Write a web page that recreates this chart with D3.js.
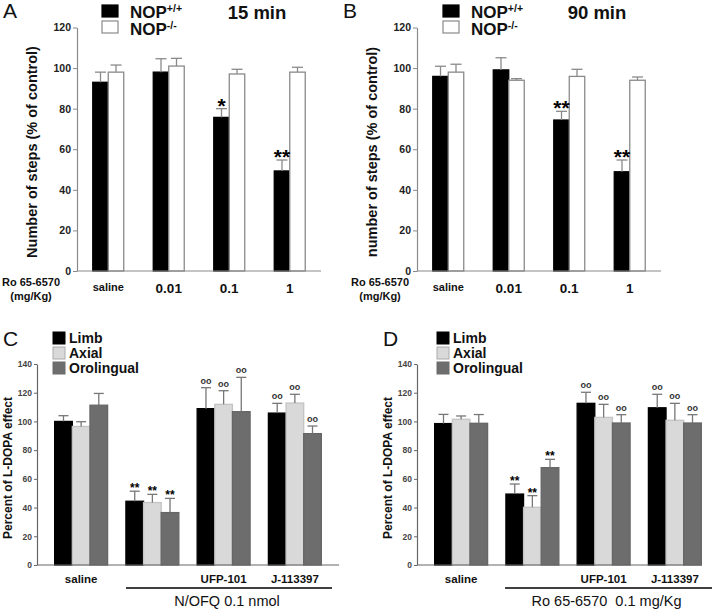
<!DOCTYPE html>
<html>
<head>
<meta charset="utf-8">
<script src="https://cdn.jsdelivr.net/npm/d3@7"></script>
<style>
  body { margin: 0; background: #fff; }
  svg { display: block; font-family: "Liberation Sans", Arial, sans-serif; }
</style>
</head>
<body>
<div id="chart"></div>
<script>
// ---- data ----
const doses = ["saline", "0.01", "0.1", "1"];
const genotypes = ["NOP+/+", "NOP-/-"];

// panel A, 15 min
const a15Wt = [93, 98, 75.7, 49.3];
const a15WtSem = [5, 6.6, 4.3, 5.4];
const a15Ko = [98, 101, 97.1, 98];
const a15KoSem = [3.5, 3.8, 2.3, 2.4];
const a15Marks = ["", "", "*", "**"];

// panel B, 90 min
const b90Wt = [95.9, 99.1, 74.4, 48.9];
const b90WtSem = [5, 6, 4.3, 5.8];
const b90Ko = [98, 94, 95.9, 94];
const b90KoSem = [3.9, 0.8, 3.5, 1.6];
const b90Marks = ["", "", "**", "**"];

const treatments = ["saline", "agonist", "UFP-101", "J-113397"];
const treatmentLabels = ["saline", "", "UFP-101", "J-113397"];
const scores = ["Limb", "Axial", "Orolingual"];

// panel C, N/OFQ 0.1 nmol
const cLimb = [100, 44.4, 108.9, 105.8];
const cLimbSem = [4, 7, 14.6, 6.8];
const cAxial = [96.5, 43.5, 111.9, 112.8];
const cAxialSem = [3.3, 5.7, 9.5, 6.1];
const cOro = [111.3, 36.5, 106.8, 91.5];
const cOroSem = [8.2, 9.9, 23.9, 5.3];

// panel D, Ro 65-6570 0.1 mg/Kg
const dLimb = [98.5, 49.4, 112.6, 109.5];
const dLimbSem = [6.4, 7, 7.7, 9.4];
const dAxial = [101.5, 40.2, 102.8, 100.8];
const dAxialSem = [2.3, 8.1, 9.1, 11.8];
const dOro = [98.7, 67.8, 98.9, 98.9];
const dOroSem = [6.1, 5.8, 5.8, 5.8];

const cdMarks = ["", "**", "oo", "oo"];

const ticksAB = [0, 20, 40, 60, 80, 100, 120];
const ticksCD = [0, 20, 40, 60, 80, 100, 120, 140];

// ---- drawing ----
const svg = d3.select("#chart")
    .append("svg")
    .attr("width", 720)
    .attr("height", 609);

function drawPanel(o) {
    const g = svg.append("g");

    const y = d3.scaleLinear().domain([0, o.yMax]).range([o.yBottom, o.yTop]);
    const x0 = d3.scaleBand()
        .domain(o.groups)
        .range([o.xLeft, o.xRight])
        .paddingInner(o.padIn)
        .paddingOuter(o.padOut);
    const x1 = d3.scaleBand().domain(o.series).range([0, x0.bandwidth()]);
    const color = d3.scaleOrdinal().domain(o.series).range(o.colors);

    const rows = [];
    o.series.forEach((s, si) => {
        o.groups.forEach((grp, gi) => {
            rows.push({
                group: grp, series: s,
                v: o.values[si][gi], e: o.sems[si][gi],
                mark: o.marks(si, gi)
            });
        });
    });

    // bars
    g.selectAll("rect.bar")
        .data(rows)
        .enter()
        .append("rect")
        .attr("class", "bar")
        .attr("x", d => x0(d.group) + x1(d.series))
        .attr("y", d => y(d.v))
        .attr("width", x1.bandwidth())
        .attr("height", d => y(0) - y(d.v))
        .attr("fill", d => color(d.series))
        .attr("stroke", d => o.outline(d.series))
        .attr("stroke-width", 1.3);

    // error bars (upper half only)
    const cx = d => x0(d.group) + x1(d.series) + x1.bandwidth() / 2;
    const eb = g.selectAll("g.err").data(rows).enter().append("g")
        .attr("stroke", o.errColor)
        .attr("stroke-width", 1.3);
    eb.append("line")
        .attr("x1", cx).attr("x2", cx)
        .attr("y1", d => y(d.v))
        .attr("y2", d => y(d.v + d.e));
    eb.append("line")
        .attr("x1", d => cx(d) - o.capW / 2)
        .attr("x2", d => cx(d) + o.capW / 2)
        .attr("y1", d => y(d.v + d.e))
        .attr("y2", d => y(d.v + d.e));

    // significance marks
    g.selectAll("text.mark")
        .data(rows.filter(d => d.mark))
        .enter()
        .append("text")
        .attr("x", cx)
        .attr("y", d => y(d.v + d.e) + (d.mark === "oo" ? o.ooDy : o.starDy))
        .attr("text-anchor", "middle")
        .attr("font-weight", "bold")
        .attr("font-size", d => d.mark === "oo" ? o.ooSize : o.starSize)
        .attr("fill", d => d.mark === "oo" ? "#333" : "#000")
        .text(d => d.mark);

    // y axis
    const yAxis = g.append("g")
        .attr("transform", `translate(${o.axisX},0)`)
        .call(d3.axisLeft(y).tickValues(o.ticks).tickSize(o.tickLen).tickSizeOuter(0).tickPadding(2));
    yAxis.select(".domain").attr("stroke", o.axisColor).attr("stroke-width", 1.2);
    yAxis.selectAll(".tick line").attr("stroke", o.axisColor);
    yAxis.selectAll(".tick text")
        .attr("font-family", "Liberation Sans, Arial, sans-serif")
        .attr("font-weight", "bold")
        .attr("font-size", o.tickSize)
        .attr("fill", o.tickColor);

    // x baseline
    g.append("line")
        .attr("x1", o.axisX).attr("x2", o.axisEnd)
        .attr("y1", y(0)).attr("y2", y(0))
        .attr("stroke", o.axisColor).attr("stroke-width", 1.2);

    // category labels
    const xAxis = g.append("g")
        .attr("transform", `translate(0,${y(0)})`)
        .call(d3.axisBottom(x0).tickSize(0).tickPadding(o.catPad)
            .tickFormat((d, i) => o.catLabels[i]));
    xAxis.select(".domain").remove();
    xAxis.selectAll(".tick text")
        .attr("font-family", "Liberation Sans, Arial, sans-serif")
        .attr("font-weight", "bold")
        .attr("fill", "#111")
        .attr("font-size", d => o.catSize(d));

    // y title
    g.append("text")
        .attr("transform", `translate(${o.yTitleX},${o.yTitleY}) rotate(-90)`)
        .attr("text-anchor", "middle")
        .attr("font-weight", "bold")
        .attr("font-size", o.yTitleSize)
        .attr("fill", "#111")
        .text(o.yTitle);

    // panel letter
    g.append("text")
        .attr("x", o.letterX).attr("y", o.letterY)
        .attr("font-size", 21)
        .attr("fill", "#111")
        .text(o.letter);

    return { g, x0, y };
}

// ----- A & B -----
function drawNop(o) {
    const p = drawPanel({
        groups: doses, series: genotypes, catLabels: doses,
        values: [o.wt, o.ko], sems: [o.wtSem, o.koSem],
        marks: (si, gi) => si === 0 ? o.marks[gi] : "",
        colors: ["#000", "#fff"],
        outline: s => s === "NOP-/-" ? "#8a8a8a" : "#000",
        errColor: "#8a8a8a",
        yMax: 120, yBottom: 271, yTop: 27.5,
        xLeft: o.axisX + 1, xRight: o.axisX + 243, padIn: 0.488, padOut: 0.244,
        axisX: o.axisX, axisEnd: o.axisX + 244,
        ticks: ticksAB, tickLen: 4, tickSize: 10.5, tickColor: "#222", axisColor: "#8a8a8a",
        capW: 11, starDy: 4, starSize: 21, ooDy: -4, ooSize: 9,
        catPad: 12, catSize: d => d === "saline" ? 11 : 13.5,
        yTitle: o.yTitle, yTitleX: o.axisX - 40, yTitleY: 152, yTitleSize: 14.5,
        letter: o.letter, letterX: o.axisX - 74, letterY: 18
    });
    const g = p.g;
    // dose caption
    [["Ro 65-6570", 286], ["(mg/Kg)", 300]].forEach(([t, yy]) => {
        g.append("text")
            .attr("x", o.captionX).attr("y", yy)
            .attr("text-anchor", "middle")
            .attr("font-weight", "bold").attr("font-size", 11).attr("fill", "#111")
            .text(t);
    });
    // legend
    const lg = g.append("g").attr("transform", `translate(${o.legendX},0)`);
    [["#000", "#000", 5, "+/+", 18], ["#fff", "#8a8a8a", 21, "-/-", 35]].forEach(([f, s, yy, sup, by]) => {
        lg.append("rect").attr("x", 0).attr("y", yy).attr("width", 16).attr("height", 12)
            .attr("fill", f).attr("stroke", s).attr("stroke-width", 1.2);
        const t = lg.append("text").attr("x", 28).attr("y", by)
            .attr("font-weight", "bold").attr("font-size", 17).attr("fill", "#111");
        t.append("tspan").text("NOP");
        t.append("tspan").attr("dy", -6).attr("font-size", 10.5).text(sup);
    });
    g.append("text")
        .attr("x", o.titleX).attr("y", 19)
        .attr("text-anchor", "middle")
        .attr("font-weight", "bold").attr("font-size", 18.5).attr("fill", "#111")
        .text(o.title);
}

drawNop({
    wt: a15Wt, wtSem: a15WtSem, ko: a15Ko, koSem: a15KoSem, marks: a15Marks,
    axisX: 77, captionX: 31, legendX: 102, titleX: 257, title: "15 min",
    yTitle: "Number of steps (% of control)", letter: "A"
});
drawNop({
    wt: b90Wt, wtSem: b90WtSem, ko: b90Ko, koSem: b90KoSem, marks: b90Marks,
    axisX: 417, captionX: 380, legendX: 443, titleX: 597, title: "90 min",
    yTitle: "number of steps (% of control)", letter: "B"
});

// ----- C & D -----
function drawScores(o) {
    const p = drawPanel({
        groups: treatments, series: scores, catLabels: treatmentLabels,
        values: o.values, sems: o.sems,
        marks: (si, gi) => cdMarks[gi],
        colors: ["#000", "#d9d9d9", "#6d6d6d"],
        outline: s => s === "Axial" ? "#c4c4c4" : s === "Orolingual" ? "#666" : "#000",
        errColor: "#777",
        yMax: 140, yBottom: 565, yTop: 364,
        xLeft: o.axisX, xRight: o.axisX + 302, padIn: 0.257, padOut: 0.248,
        axisX: o.axisX, axisEnd: o.axisEnd,
        ticks: ticksCD, tickLen: 3, tickSize: 8.5, tickColor: "#444", axisColor: "#666",
        capW: 10, starDy: 1, starSize: 12, ooDy: -4, ooSize: 9,
        catPad: 10, catSize: () => 11.5,
        yTitle: "Percent of L-DOPA effect", yTitleX: o.axisX - 25, yTitleY: 468, yTitleSize: 12,
        letter: o.letter, letterX: o.axisX - 34, letterY: 346
    });
    const g = p.g;
    // bracket under the treatment groups
    g.append("line")
        .attr("x1", o.lineX1).attr("x2", o.lineX2)
        .attr("y1", 588).attr("y2", 588)
        .attr("stroke", "#000").attr("stroke-width", 1.5);
    g.append("text")
        .attr("x", (o.lineX1 + o.lineX2) / 2 - 2).attr("y", 606)
        .attr("text-anchor", "middle")
        .attr("font-size", 14.5).attr("fill", "#111")
        .attr("xml:space", "preserve")
        .text(o.caption);
    // legend
    const colors = ["#000", "#d9d9d9", "#6d6d6d"];
    const lg = g.append("g").attr("transform", `translate(${o.legendX},332)`);
    scores.forEach((s, i) => {
        lg.append("rect").attr("x", 0).attr("y", i * 15).attr("width", 12).attr("height", 12)
            .attr("fill", colors[i]).attr("stroke", i === 1 ? "#aaa" : colors[i]);
        lg.append("text").attr("x", 16).attr("y", i * 15 + 11)
            .attr("font-weight", "bold").attr("font-size", 14).attr("fill", "#111")
            .text(s);
    });
}

drawScores({
    values: [cLimb, cAxial, cOro], sems: [cLimbSem, cAxialSem, cOroSem],
    axisX: 37, axisEnd: 339, lineX1: 126, lineX2: 332,
    caption: "N/OFQ 0.1 nmol", legendX: 53, letter: "C"
});
drawScores({
    values: [dLimb, dAxial, dOro], sems: [dLimbSem, dAxialSem, dOroSem],
    axisX: 417, axisEnd: 702, lineX1: 505, lineX2: 712,
    caption: "Ro 65-6570  0.1 mg/Kg", legendX: 437, letter: "D"
});
</script>
</body>
</html>
